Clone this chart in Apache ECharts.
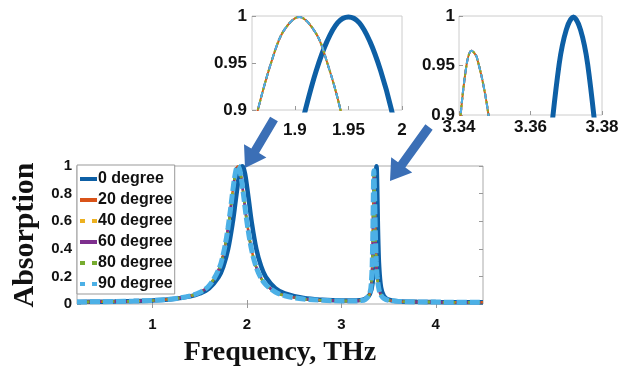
<!DOCTYPE html>
<html>
<head>
<meta charset="utf-8">
<script src="https://cdn.jsdelivr.net/npm/echarts@6/dist/echarts.min.js"></script>
<style>
  html, body { margin: 0; padding: 0; background: #fff; }
  #chart { width: 619px; height: 367px; }
</style>
</head>
<body>
<div id="chart"></div>
<script>
// legend names, one per incidence angle
const angles = ['0 degree', '20 degree', '40 degree', '60 degree', '80 degree', '90 degree'];
const dottedLegend = [false, false, true, false, true, true];

// 0 degree curve
const freq0 = [0.2, 0.4, 0.6, 0.8, 1.0, 1.2, 1.4, 1.5, 1.6, 1.7, 1.75, 1.8, 1.85, 1.88, 1.9,
  1.91, 1.92, 1.93, 1.94, 1.95, 1.96, 1.97, 1.98, 1.99, 2.02, 2.05, 2.1, 2.15, 2.2, 2.3,
  2.4, 2.6, 2.8, 3.0, 3.1, 3.2, 3.25, 3.3, 3.33, 3.35, 3.36, 3.365, 3.368, 3.37, 3.372,
  3.374, 3.376, 3.379, 3.385, 3.39, 3.4, 3.42, 3.45, 3.5, 3.6, 3.8, 4.0, 4.2, 4.5];
const abs0 = [0.015, 0.016, 0.018, 0.021, 0.026, 0.035, 0.055, 0.076, 0.114, 0.195, 0.272, 0.396, 0.594, 0.749, 0.853,
  0.901, 0.942, 0.973, 0.993, 0.999, 0.993, 0.973, 0.942, 0.901, 0.749, 0.594, 0.397, 0.273, 0.196, 0.115,
  0.077, 0.043, 0.030, 0.025, 0.025, 0.028, 0.037, 0.068, 0.151, 0.375, 0.664, 0.855, 0.951, 0.986, 0.999,
  0.986, 0.951, 0.855, 0.627, 0.468, 0.272, 0.121, 0.059, 0.032, 0.020, 0.016, 0.014, 0.013, 0.012];

// 20..90 degree curves lie on top of each other
const freqTilt = [0.2, 0.4, 0.6, 0.8, 1.0, 1.2, 1.4, 1.5, 1.6, 1.7, 1.75, 1.8, 1.85, 1.865, 1.88,
  1.89, 1.904, 1.92, 1.93, 1.942, 1.96, 2.0, 2.05, 2.1, 2.15, 2.2, 2.3, 2.4, 2.6, 2.8,
  3.0, 3.1, 3.2, 3.25, 3.3, 3.32, 3.33, 3.336, 3.34, 3.342, 3.3435, 3.345, 3.348, 3.352, 3.356,
  3.362, 3.37, 3.38, 3.4, 3.42, 3.45, 3.5, 3.6, 3.8, 4.0, 4.2, 4.5];
const absTilt = [0.0145, 0.016, 0.018, 0.021, 0.026, 0.036, 0.059, 0.084, 0.134, 0.249, 0.364, 0.555, 0.821, 0.898, 0.958,
  0.985, 0.999, 0.981, 0.951, 0.903, 0.810, 0.593, 0.389, 0.263, 0.187, 0.140, 0.087, 0.060, 0.036, 0.027,
  0.022, 0.021, 0.024, 0.031, 0.074, 0.188, 0.397, 0.669, 0.88, 0.948, 0.965, 0.958, 0.906, 0.789, 0.648,
  0.467, 0.307, 0.195, 0.100, 0.064, 0.041, 0.027, 0.019, 0.015, 0.014, 0.0125, 0.012];

const mainTicksX = [1, 2, 3, 4];
const inset1TicksX = [1.9, 1.95, 2];
const inset2TicksX = [3.34, 3.36, 3.38];
const insetTicksY = [0.9, 0.95, 1];

const colors = ['#0d5fa5', '#d95319', '#edb120', '#7e2f8e', '#77ac30', '#4cb0e6'];

const chart = echarts.init(document.getElementById('chart'));

function pairs(xs, ys) {
  return xs.map((x, i) => [x, ys[i]]);
}

// main plot styles
const mainStyles = [
  { width: 4.5, type: 'solid' },
  { width: 2.5, type: 'solid' },
  { width: 2.5, type: 'dotted' },
  { width: 2.5, type: [6, 3] },
  { width: 2.5, type: 'dotted' },
  { width: 5, type: [10, 3] },
];
// inset styles
const insetStyles = [
  { width: 5, type: 'solid' },
  { width: 2, type: 'solid' },
  { width: 2, type: 'dotted' },
  { width: 2, type: [5, 5] },
  { width: 2, type: 'dotted' },
  { width: 2, type: [6, 4] },
];

const series = [];
[0, 1, 2].forEach(g => {
  angles.forEach((name, i) => {
    const st = g === 0 ? mainStyles[i] : insetStyles[i];
    series.push({
      name: name,
      type: 'line',
      xAxisIndex: g === 0 ? 0 : g + 1,
      yAxisIndex: g === 0 ? 0 : g + 1,
      data: i === 0 ? pairs(freq0, abs0) : pairs(freqTilt, absTilt),
      symbol: 'none',
      smooth: 0.35,
      clip: true,
      color: colors[i],
      lineStyle: { color: colors[i], width: st.width, type: st.type },
      z: 2 + i,
      animation: false,
    });
  });
});

const tickFont = { color: '#111', fontWeight: 'bold', fontFamily: 'Arial, "Liberation Sans", sans-serif' };
const insetFont = { color: '#111', fontWeight: 'bold', fontSize: 17, fontFamily: '"Liberation Sans Narrow", "Arial Narrow", Arial, sans-serif' };
const boxTick = { show: true, inside: true, length: 4, lineStyle: { color: '#999' } };

function tickOnlyX(grid, min, max, ticks, pos) {
  return {
    type: 'value', gridIndex: grid, position: pos, min: min, max: max,
    axisLine: { show: false }, splitLine: { show: false },
    axisLabel: { show: false },
    axisTick: Object.assign({ customValues: ticks }, boxTick),
  };
}

const option = {
  backgroundColor: '#fff',
  animation: false,
  grid: [
    { left: 77, top: 166, width: 406, height: 138, show: true, borderColor: '#aaa', borderWidth: 1, outerBoundsMode: 'none' },
    { left: 252, top: 16, width: 150, height: 94, show: true, borderColor: '#ccc', borderWidth: 1, outerBoundsMode: 'none' },
    { left: 459, top: 16, width: 143, height: 99, show: true, borderColor: '#ccc', borderWidth: 1, outerBoundsMode: 'none' },
  ],
  xAxis: [
    {
      type: 'value', gridIndex: 0, min: 0.2, max: 4.5,
      name: 'Frequency, THz', nameLocation: 'middle', nameGap: 35,
      nameTextStyle: { fontFamily: '"Liberation Serif", "Times New Roman", serif', fontWeight: 'bold', fontSize: 28, color: '#111' },
      axisLine: { show: false }, splitLine: { show: false },
      axisTick: Object.assign({ customValues: mainTicksX }, boxTick),
      axisLabel: Object.assign({ customValues: mainTicksX, fontSize: 15, margin: 13 }, tickFont),
    },
    tickOnlyX(0, 0.2, 4.5, mainTicksX, 'top'),
    {
      type: 'value', gridIndex: 1, min: 1.86, max: 2,
      axisLine: { show: false }, splitLine: { show: false },
      axisTick: Object.assign({ customValues: inset1TicksX }, boxTick),
      axisLabel: Object.assign({ customValues: inset1TicksX, margin: 12 }, insetFont),
    },
    {
      type: 'value', gridIndex: 2, min: 3.34, max: 3.38,
      axisLine: { show: false }, splitLine: { show: false },
      axisTick: Object.assign({ customValues: inset2TicksX }, boxTick),
      axisLabel: Object.assign({ customValues: inset2TicksX, margin: 4 }, insetFont),
    },
  ],
  yAxis: [
    {
      type: 'value', gridIndex: 0, min: 0, max: 1, interval: 0.2,
      name: 'Absorption', nameLocation: 'middle', nameGap: 21,
      nameTextStyle: { fontFamily: '"Liberation Serif", "Times New Roman", serif', fontWeight: 'bold', fontSize: 30, color: '#111' },
      axisLine: { show: false }, splitLine: { show: false },
      axisTick: boxTick,
      axisLabel: Object.assign({ fontSize: 15, margin: 5 }, tickFont),
    },
    {
      type: 'value', gridIndex: 0, min: 0, max: 1, interval: 0.2, position: 'right',
      axisLine: { show: false }, splitLine: { show: false },
      axisLabel: { show: false }, axisTick: boxTick,
    },
    {
      type: 'value', gridIndex: 1, min: 0.9, max: 1,
      axisLine: { show: false }, splitLine: { show: false },
      axisTick: Object.assign({ customValues: insetTicksY }, boxTick),
      axisLabel: Object.assign({ customValues: insetTicksY, margin: 5 }, insetFont),
    },
    {
      type: 'value', gridIndex: 2, min: 0.9, max: 1,
      axisLine: { show: false }, splitLine: { show: false },
      axisTick: Object.assign({ customValues: insetTicksY }, boxTick),
      axisLabel: Object.assign({ customValues: insetTicksY, margin: 4 }, insetFont),
    },
  ],
  legend: {
    data: angles.map((n, i) => ({
      name: n,
      icon: dottedLegend[i] ? 'path://M0,0h5v4h-5zM12,0h5v4h-5z' : 'rect',
    })),
    orient: 'vertical',
    left: 77, top: 165,
    itemWidth: 17, itemHeight: 4, itemGap: 5,
    padding: [6, 2, 2, 3],
    backgroundColor: '#fff',
    borderColor: '#999', borderWidth: 1, borderRadius: 0,
    textStyle: { fontSize: 16, lineHeight: 16, fontWeight: 'bold', color: '#111', fontFamily: 'Arial, "Liberation Sans", sans-serif', padding: [0, 0, 0, -4] },
    selectedMode: false,
  },
  series: series,
};

chart.setOption(option);

// annotation arrows from the insets to the peaks
function arrow(tail, tip) {
  const dx = tip[0] - tail[0], dy = tip[1] - tail[1];
  const len = Math.sqrt(dx * dx + dy * dy);
  const ux = dx / len, uy = dy / len;
  const nx = -uy, ny = ux;
  const w = 4.5, hw = 13, hl = 20;
  const bx = tip[0] - ux * hl, by = tip[1] - uy * hl;
  return {
    type: 'polygon',
    z: 100,
    shape: {
      points: [
        [tail[0] + nx * w, tail[1] + ny * w],
        [bx + nx * w, by + ny * w],
        [bx + nx * hw, by + ny * hw],
        tip,
        [bx - nx * hw, by - ny * hw],
        [bx - nx * w, by - ny * w],
        [tail[0] - nx * w, tail[1] - ny * w],
      ]
    },
    style: { fill: '#3b6fb6' }
  };
}

chart.setOption({
  graphic: [
    arrow([274, 119], [245, 168]),
    arrow([429, 127], [390, 181]),
  ]
});
</script>
</body>
</html>
